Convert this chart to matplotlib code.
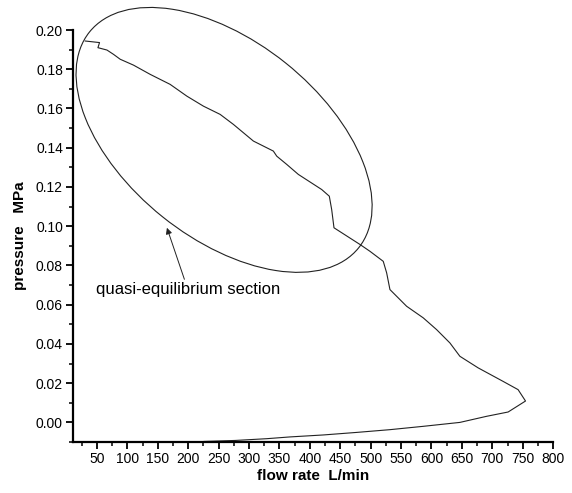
import numpy as np
import matplotlib
matplotlib.use("Agg")
import matplotlib.pyplot as plt
from matplotlib.patches import Ellipse
from matplotlib.transforms import ScaledTranslation
from matplotlib.ticker import MultipleLocator, FormatStrFormatter

# 流量 L/min 与压力 MPa
flow = [30.7, 54.2, 51.6, 66.4, 77.2, 88.2, 110.1, 137.5, 170.3, 197.8,
        225.0, 252.5, 274.3, 307.2, 340.0, 345.6, 362.0, 381.1, 419.5, 432.0,
        435.9, 439.7, 482.4, 498.9, 520.7, 526.3, 531.7, 559.1, 586.4, 608.4,
        630.3, 646.7, 676.7, 717.8, 742.4, 754.6, 726.0, 690.5, 646.7, 586.4,
        531.7, 477.0, 422.1, 367.4, 329.2, 277.1, 226.2]
pressure = [0.1944, 0.1936, 0.1910, 0.1898, 0.1876, 0.1851, 0.1821, 0.1774, 0.1723, 0.1663,
            0.1612, 0.1570, 0.1519, 0.1434, 0.1383, 0.1357, 0.1315, 0.1264, 0.1187, 0.1153,
            0.1085, 0.0992, 0.0907, 0.0872, 0.0821, 0.0762, 0.0677, 0.0592, 0.0533, 0.0473,
            0.0405, 0.0337, 0.0278, 0.0209, 0.0167, 0.0109, 0.0053, 0.0031, 0.0000, -0.0020,
            -0.0037, -0.0051, -0.0064, -0.0074, -0.0083, -0.0092, -0.0097]

# 椭圆标注 (中心为数据坐标, 尺寸为英寸)
ell_center = (259.0, 0.1440)
ell_size = (3.45, 1.97)
ell_angle = -38.7

plt.rcParams['font.family'] = ['Liberation Sans', 'DejaVu Sans']

fig = plt.figure(figsize=(5.72, 4.93), dpi=100)
ax = fig.add_axes([0.127, 0.1034, 0.840, 0.8357])

ax.plot(flow, pressure, color='#222222', lw=0.8)

# 椭圆
tr = fig.dpi_scale_trans + ScaledTranslation(ell_center[0], ell_center[1], ax.transData)
ax.add_patch(Ellipse((0, 0), ell_size[0], ell_size[1], angle=ell_angle,
                     fill=False, ec='#222222', lw=0.8, transform=tr, clip_on=False))

ax.annotate("quasi-equilibrium section", xy=(165, 0.0992), xytext=(48, 0.0677),
            fontsize=12, va='center', ha='left',
            arrowprops=dict(arrowstyle='-|>', color='#222222', lw=0.7,
                            mutation_scale=9, shrinkA=0, shrinkB=0))

ax.set_xlim(10, 800)
ax.set_ylim(-0.01, 0.20)
ax.xaxis.set_major_locator(MultipleLocator(50))
ax.xaxis.set_minor_locator(MultipleLocator(25))
ax.yaxis.set_major_locator(MultipleLocator(0.02))
ax.yaxis.set_minor_locator(MultipleLocator(0.01))
ax.yaxis.set_major_formatter(FormatStrFormatter('%.2f'))

for s in ['top', 'right']:
    ax.spines[s].set_visible(False)
for s in ['left', 'bottom']:
    ax.spines[s].set_linewidth(1.6)

ax.tick_params(which='major', direction='out', length=5, width=1.3, labelsize=10, pad=2)
ax.tick_params(which='minor', direction='out', length=3, width=1.1)

ax.set_xlabel("flow rate  L/min", fontsize=11, fontweight='bold', labelpad=2)
ax.set_ylabel("pressure   MPa", fontsize=11, fontweight='bold', labelpad=6)

fig.savefig("out.png", dpi=100)
